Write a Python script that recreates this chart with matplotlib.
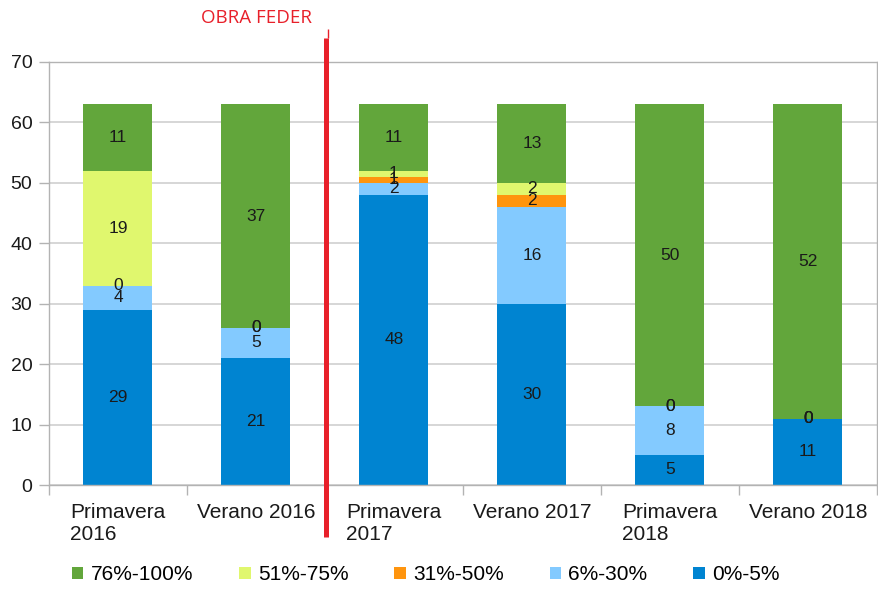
import numpy as np
import matplotlib
matplotlib.use("Agg")
import matplotlib.pyplot as plt
from matplotlib.patches import Patch

plt.rcParams['font.family'] = ['Liberation Sans', 'DejaVu Sans']

# datos
categorias = ["Primavera\n2016", "Verano 2016", "Primavera\n2017", "Verano 2017",
              "Primavera\n2018", "Verano 2018"]
series = ["0%-5%", "6%-30%", "31%-50%", "51%-75%", "76%-100%"]
v_0_5 = [29, 21, 48, 30, 5, 11]
v_6_30 = [4, 5, 2, 16, 8, 0]
v_31_50 = [0, 0, 1, 2, 0, 0]
v_51_75 = [19, 0, 1, 2, 0, 0]
v_76_100 = [11, 37, 11, 13, 50, 52]
colores = ["#0084D1", "#83CAFF", "#FF950E", "#E0F76E", "#62A63B"]
yticks = [0, 10, 20, 30, 40, 50, 60, 70]

valores = [v_0_5, v_6_30, v_31_50, v_51_75, v_76_100]

fig = plt.figure(figsize=(8.79, 5.92), dpi=100)
ax = fig.add_axes([49 / 879, 1 - 485 / 592, 828 / 879, 423 / 592])

x = np.arange(len(categorias))
base = np.zeros(len(categorias))
for nombre, vals, col in zip(series, valores, colores):
    vals = np.array(vals, dtype=float)
    ax.bar(x, vals, width=0.5, bottom=base, color=col, edgecolor="none", zorder=2)
    # etiqueta en el centro de cada tramo (los ceros quedan encima, como en el original)
    for xi, b, v in zip(x, base, vals):
        ax.text(xi, b + v / 2, f"{int(v)}", ha="center", va="center",
                fontsize=12.5, color="#1a1a1a", zorder=3)
    base += vals

ax.set_xlim(-0.5, 5.5)
ax.set_ylim(0, 70)
ax.set_yticks(yticks)
ax.set_xticks(x)
ax.set_xticklabels(categorias, fontsize=15, multialignment="left", color="#1a1a1a",
                   linespacing=1.2)
ax.tick_params(axis="x", length=0, pad=13)
ax.set_xticks(np.arange(-0.5, 6, 1), minor=True)
ax.tick_params(axis="x", which="minor", length=7, color="#b3b3b3", width=1)
ax.tick_params(axis="y", length=7, color="#b3b3b3", width=1, labelsize=14,
               labelcolor="#1a1a1a", pad=5)
ax.grid(axis="y", color="#d0d0d0", linewidth=1.2, zorder=0)
for s in ax.spines.values():
    s.set_color("#b3b3b3")
    s.set_linewidth(1)

# linea de la obra
ax.plot([1.51, 1.51], [74.0, -8.6], color="#E8202A", linewidth=3.6, clip_on=False,
        solid_capstyle="butt", zorder=5)
ax.plot([1.525, 1.525], [75.5, 74.0], color="#E8202A", linewidth=1, clip_on=False,
        solid_capstyle="butt", zorder=5)
fig.text(257 / 879, 1 - 18 / 592, "OBRA FEDER", color="#E8202A", fontsize=13.5,
         family=["Open Sans", "DejaVu Sans"], ha="center", va="center")

handles = [Patch(facecolor=c, edgecolor="none") for c in colores[::-1]]
ax.legend(handles, series[::-1], loc="center left", bbox_to_anchor=(72 / 879, 1 - 575 / 592),
          bbox_transform=fig.transFigure, ncol=5, frameon=False, fontsize=15,
          handlelength=0.55, handleheight=0.55, handletextpad=0.35, columnspacing=2.2,
          borderpad=0, borderaxespad=0)

fig.savefig("out.png", dpi=100)
